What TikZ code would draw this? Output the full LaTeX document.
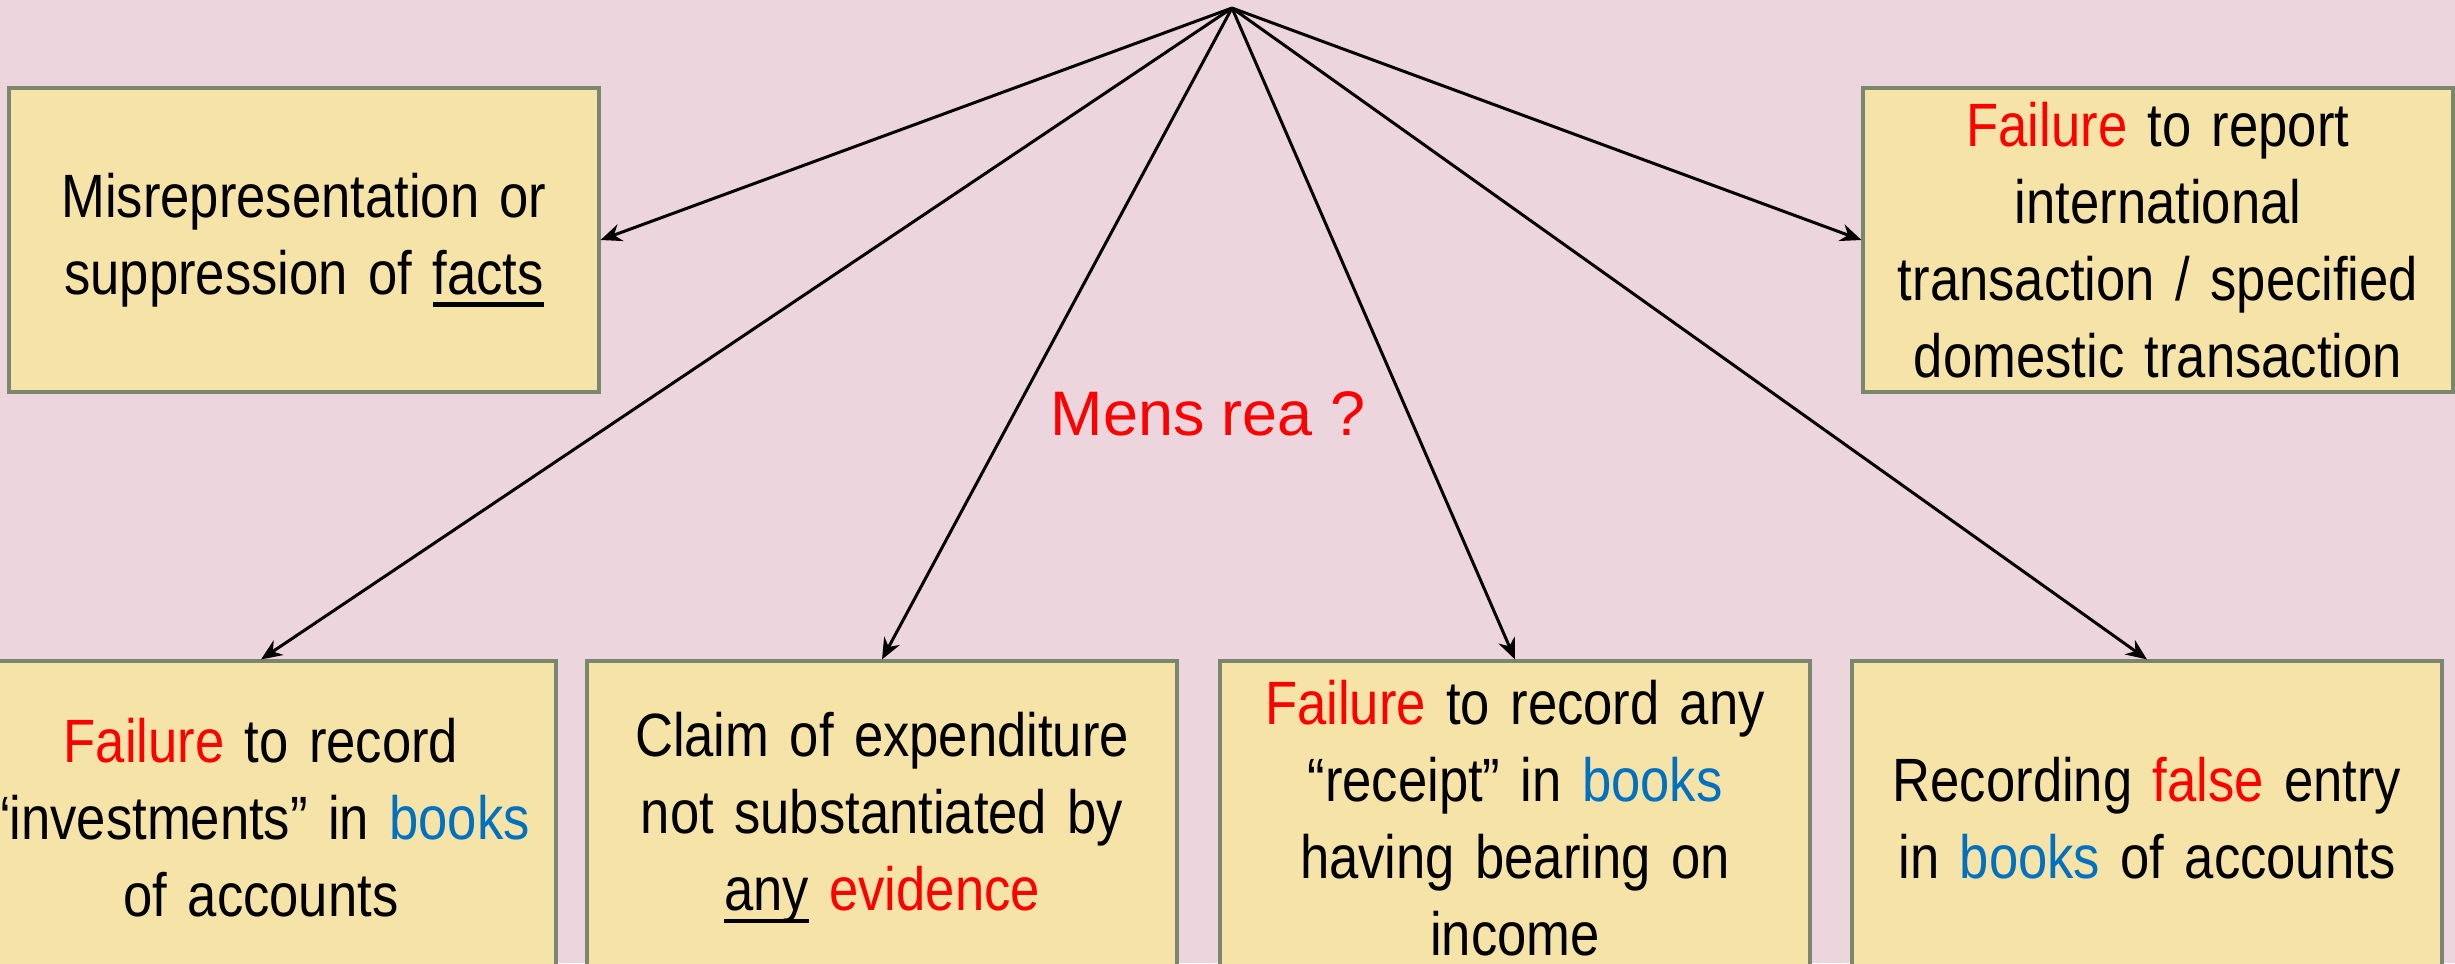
\documentclass[tikz,border=0pt]{standalone}
\usepackage{fontspec}
\setmainfont{Liberation Sans}
\newfontfamily\narrowsans[FakeStretch=0.86]{Liberation Sans}
\definecolor{bg}{RGB}{237,213,222}
\definecolor{boxfill}{RGB}{245,227,168}
\definecolor{boxline}{RGB}{122,134,110}
\definecolor{hired}{RGB}{255,0,0}
\definecolor{hiblue}{RGB}{0,112,192}
\usetikzlibrary{arrows.meta}
\newsavebox\ulbox
\newcommand{\ulword}[1]{\leavevmode\sbox\ulbox{#1}\rlap{\rule[-0.2em]{\wd\ulbox}{0.07em}}\usebox\ulbox}
\newcommand{\red}[1]{\textcolor{hired}{#1}}
\newcommand{\blue}[1]{\textcolor{hiblue}{#1}}

\begin{document}
\begin{tikzpicture}[
  box/.style={draw=boxline, line width=0.9pt, fill=boxfill, minimum width=5.9cm, text width=5.8cm,
    align=center, inner sep=0pt, font=\narrowsans\fontsize{17.4}{21.9}\selectfont},
  >={Stealth[length=6pt,width=5pt]}]
\path [fill=bg, use as bounding box] (0,0) rectangle (24.55,-9.63);
\clip (0,0) rectangle (24.55,-9.63);
\coordinate (top) at (12.32,-0.08);
\node [box, minimum height=3.04cm] (misrep) at (3.04,-2.40) {Misrepresentation or\\suppression of \ulword{facts}};
\node [box, minimum height=3.04cm] (report) at (21.58,-2.40) {\red{Failure} to report\\international\\transaction / specified\\domestic transaction};
\node [box, minimum height=3.14cm] (invest) at (2.61,-8.18) {\red{Failure} to record\\“investments” in \blue{books}\\of accounts};
\node [box, minimum height=3.14cm] (claim) at (8.82,-8.18) {Claim of expenditure\\not substantiated by\\\ulword{any} \red{evidence}};
\node [box, minimum height=3.14cm] (receipt) at (15.15,-8.18) {\red{Failure} to record any\\“receipt” in \blue{books}\\having bearing on\\income};
\node [box, minimum height=3.14cm] (falseentry) at (21.47,-8.18) {Recording \red{false} entry\\in \blue{books} of accounts};
\node [anchor=base, text=hired, font=\fontsize{17.9}{21}\selectfont] (mensrea) at (12.08,-4.35) {Mens rea ?};
\draw [->, line width=0.85pt] (top) -- (misrep.east);
\draw [->, line width=0.85pt] (top) -- (report.west);
\draw [->, line width=0.85pt] (top) -- (invest.north);
\draw [->, line width=0.85pt] (top) -- (claim.north);
\draw [->, line width=0.85pt] (top) -- (receipt.north);
\draw [->, line width=0.85pt] (top) -- (falseentry.north);
\end{tikzpicture}
\end{document}
